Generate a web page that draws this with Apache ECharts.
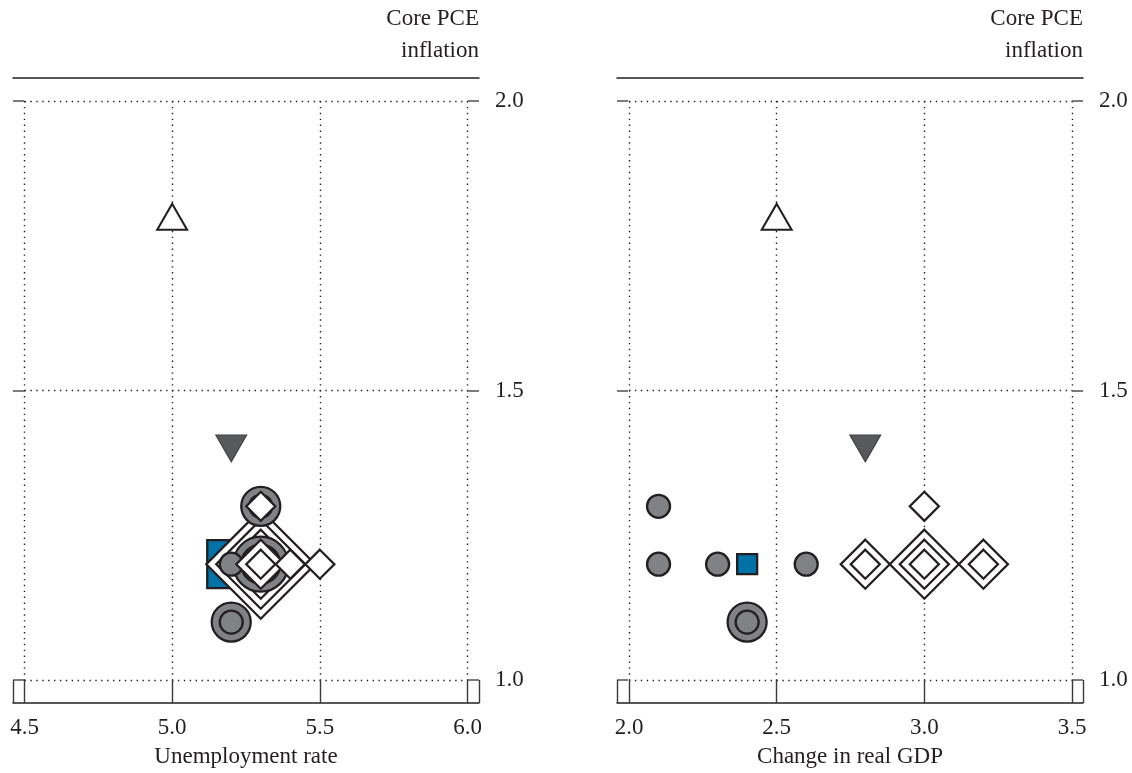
<!DOCTYPE html>
<html>
<head>
<meta charset="utf-8">
<script src="https://cdn.jsdelivr.net/npm/echarts@6/dist/echarts.min.js"></script>
<style>
  html, body { margin: 0; padding: 0; background: #fff; }
  #chart { width: 1132px; height: 773px; }
</style>
</head>
<body>
<div id="chart"></div>
<script>
// Tick values for the three axes
const unempTicks = [4.5, 5.0, 5.5, 6.0];
const gdpTicks = [2.0, 2.5, 3.0, 3.5];
const inflTicks = [1.0, 1.5, 2.0];

// Projections: [x value, core PCE inflation, number of projections at that point]
const unempCircles  = [[5.3, 1.3, 2], [5.2, 1.1, 2], [5.3, 1.2, 3], [5.2, 1.2, 1]];
const unempDiamonds = [[5.3, 1.3, 1], [5.3, 1.2, 5], [5.4, 1.2, 1], [5.5, 1.2, 1]];
const unempSquares  = [[5.2, 1.2, 3]];
const unempTriUp    = [[5.0, 1.8]];
const unempTriDown  = [[5.2, 1.4]];

const gdpCircles  = [[2.1, 1.3, 1], [2.1, 1.2, 1], [2.3, 1.2, 1], [2.6, 1.2, 1], [2.4, 1.1, 2]];
const gdpDiamonds = [[3.0, 1.3, 1], [2.8, 1.2, 2], [3.0, 1.2, 3], [3.2, 1.2, 2]];
const gdpSquares  = [[2.4, 1.2, 1]];
const gdpTriUp    = [[2.5, 1.8]];
const gdpTriDown  = [[2.8, 1.4]];

const FONT = 'Liberation Serif';
const INK = '#231f20';
const GRAY = '#808285';
const BLUE = '#0072a8';
const DARK = '#58595b';

// Pixel layout: inner box holds the data range, outer box holds the frame
const innerTop = 101, innerBottom = 680, outerTop = 78, outerBottom = 703;
const panels = [
  { ticks: unempTicks, name: 'Unemployment rate', innerL: 24.5, innerR: 467.5, outerL: 13, outerR: 479,
    circles: unempCircles, diamonds: unempDiamonds, squares: unempSquares, up: unempTriUp, down: unempTriDown },
  { ticks: gdpTicks, name: 'Change in real GDP', innerL: 629, innerR: 1072, outerL: 617, outerR: 1083,
    circles: gdpCircles, diamonds: gdpDiamonds, squares: gdpSquares, up: gdpTriUp, down: gdpTriDown }
];

const W = 1132, H = 773;
const grid = [], xAxis = [], yAxis = [], series = [];
const dotted = { color: INK, width: 1.4, type: [1.4, 4.5] };
const fmt = v => Number(v).toFixed(1);

const yLo = inflTicks[0], yHi = inflTicks[inflTicks.length - 1];
const yPerPx = (yHi - yLo) / (innerBottom - innerTop);
const yMinOuter = yLo - (outerBottom - innerBottom) * yPerPx;
const yMaxOuter = yHi + (innerTop - outerTop) * yPerPx;

function ringSeries(xi, yi, pts, level, symbol, base, step, fill) {
  const d = pts.filter(p => p[2] >= level).map(p => [p[0], p[1]]);
  if (!d.length) return null;
  return {
    type: 'scatter', xAxisIndex: xi, yAxisIndex: yi, data: d, symbol: symbol,
    symbolSize: base + step * (level - 1), silent: true, clip: false,
    itemStyle: { color: fill, borderColor: INK, borderWidth: 2.3, opacity: 1 }
  };
}

panels.forEach((p, k) => {
  const gInner = grid.length;
  grid.push({ left: p.innerL, top: innerTop, width: p.innerR - p.innerL, height: innerBottom - innerTop, outerBoundsMode: 'none' });
  const gOuter = grid.length;
  grid.push({ left: p.outerL, top: outerTop, width: p.outerR - p.outerL, height: outerBottom - outerTop, outerBoundsMode: 'none' });

  const t0 = p.ticks[0], t1 = p.ticks[p.ticks.length - 1];
  const xPerPx = (t1 - t0) / (p.innerR - p.innerL);
  const xMinOuter = t0 - (p.innerL - p.outerL) * xPerPx;
  const xMaxOuter = t1 + (p.outerR - p.innerR) * xPerPx;

  // inner axes: dotted reference grid over the data range
  const xi = xAxis.length;
  xAxis.push({ type: 'value', gridIndex: gInner, min: t0, max: t1, interval: 0.5,
    axisLine: { show: false }, axisTick: { show: false }, axisLabel: { show: false },
    splitLine: { show: true, lineStyle: dotted } });
  const yi = yAxis.length;
  yAxis.push({ type: 'value', gridIndex: gInner, min: yLo, max: yHi, interval: 0.5,
    axisLine: { show: false }, axisTick: { show: false }, axisLabel: { show: false },
    splitLine: { show: true, lineStyle: dotted } });

  // outer axes: frame, ticks and labels
  xAxis.push({ type: 'value', gridIndex: gOuter, position: 'bottom', min: xMinOuter, max: xMaxOuter,
    axisLine: { show: true, lineStyle: { color: INK, width: 1.5 } },
    axisTick: { show: true, inside: true, length: 23, lineStyle: { color: '#3a3a3c', width: 1.4 },
      customValues: [xMinOuter].concat(p.ticks, [xMaxOuter]) },
    axisLabel: { show: true, customValues: p.ticks, formatter: fmt, margin: 13,
      fontFamily: FONT, fontSize: 23, color: INK },
    splitLine: { show: false },
    name: p.name, nameLocation: 'middle', nameGap: 42,
    nameTextStyle: { fontFamily: FONT, fontSize: 23, color: INK } });
  xAxis.push({ type: 'value', gridIndex: gOuter, position: 'top', min: xMinOuter, max: xMaxOuter,
    axisLine: { show: true, lineStyle: { color: INK, width: 1.5 } },
    axisTick: { show: false }, axisLabel: { show: false }, splitLine: { show: false } });
  yAxis.push({ type: 'value', gridIndex: gOuter, position: 'right', min: yMinOuter, max: yMaxOuter,
    axisLine: { show: false },
    axisTick: { show: true, inside: true, length: 11, lineStyle: { color: '#6d6e71', width: 1.8 },
      customValues: inflTicks },
    axisLabel: { show: true, customValues: inflTicks, formatter: fmt, margin: 16,
      fontFamily: FONT, fontSize: 23, color: INK },
    splitLine: { show: false },
    name: 'Core PCE\ninflation', nameLocation: 'end', nameGap: 11,
    nameTextStyle: { fontFamily: FONT, fontSize: 23, color: INK, align: 'right',
      verticalAlign: 'bottom', lineHeight: 32 } });
  yAxis.push({ type: 'value', gridIndex: gOuter, position: 'left', min: yMinOuter, max: yMaxOuter,
    axisLine: { show: false },
    axisTick: { show: true, inside: true, length: 11, lineStyle: { color: '#6d6e71', width: 1.8 },
      customValues: inflTicks },
    axisLabel: { show: false }, splitLine: { show: false } });

  // markers, drawn from the outermost rings inward
  const maxD = Math.max(...p.diamonds.map(d => d[2]));
  const maxC = Math.max(...p.circles.map(d => d[2]));
  const add = s => { if (s) series.push(s); };

  p.squares.forEach(sq => {
    add({ type: 'scatter', xAxisIndex: xi, yAxisIndex: yi, data: [[sq[0], sq[1]]], symbol: 'rect',
      symbolSize: 20 + 14 * (sq[2] - 1), silent: true, clip: false,
      itemStyle: { color: BLUE, borderColor: INK, borderWidth: 2.3, opacity: 1 } });
  });
  for (let l = maxD; l >= 3; l--) add(ringSeries(xi, yi, p.diamonds, l, 'diamond', 29, 20, '#fff'));
  for (let l = maxC; l >= 1; l--) add(ringSeries(xi, yi, p.circles, l, 'circle', 23, 16, GRAY));
  for (let l = Math.min(2, maxD); l >= 1; l--) add(ringSeries(xi, yi, p.diamonds, l, 'diamond', 29, 20, '#fff'));

  add({ type: 'scatter', xAxisIndex: xi, yAxisIndex: yi, data: p.up, symbol: 'triangle',
    symbolSize: [30, 26], silent: true, clip: false,
    itemStyle: { color: '#fff', borderColor: INK, borderWidth: 2, opacity: 1 } });
  add({ type: 'scatter', xAxisIndex: xi, yAxisIndex: yi, data: p.down, symbol: 'triangle',
    symbolSize: [31, 27], symbolRotate: 180, silent: true, clip: false,
    itemStyle: { color: DARK, borderColor: '#3a3a3c', borderWidth: 1, opacity: 1 } });
});

const chart = echarts.init(document.getElementById('chart'), null, { renderer: 'canvas', width: W, height: H });
chart.setOption({
  animation: false,
  backgroundColor: '#fff',
  grid: grid,
  xAxis: xAxis,
  yAxis: yAxis,
  series: series
});
</script>
</body>
</html>
